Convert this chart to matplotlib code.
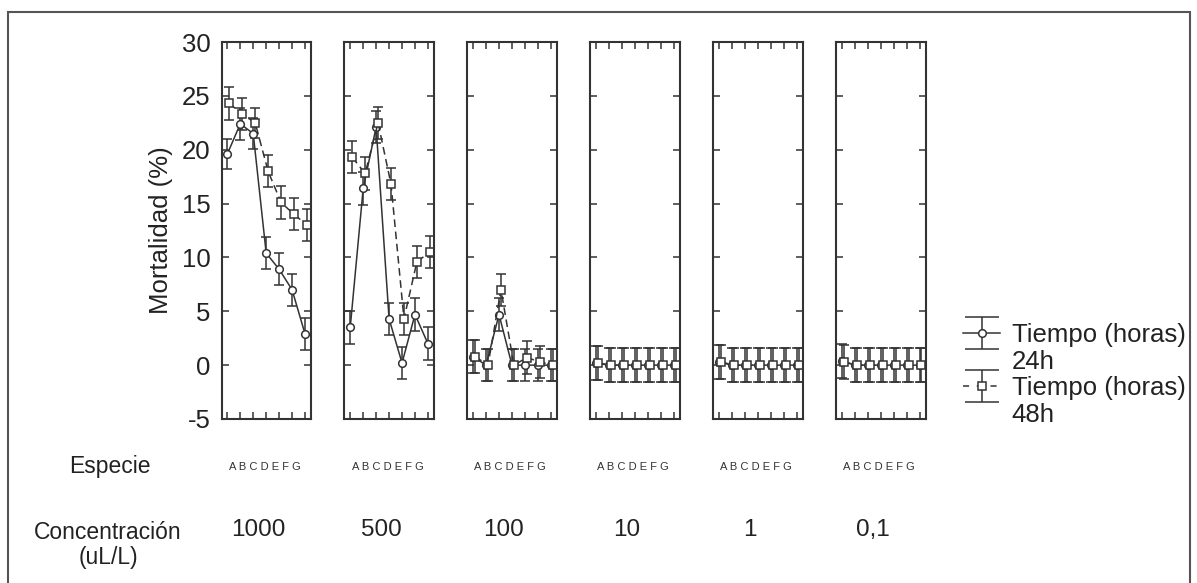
import matplotlib
matplotlib.use("Agg")
import matplotlib.pyplot as plt
from matplotlib.patches import Rectangle
from matplotlib.lines import Line2D
from matplotlib.legend_handler import HandlerErrorbar
from matplotlib.container import ErrorbarContainer
import numpy as np

plt.rcParams['font.family'] = ['Liberation Sans', 'DejaVu Sans']
plt.rcParams['axes.unicode_minus'] = False

# data
species = ["A", "B", "C", "D", "E", "F", "G"]
conc_labels = ["1000", "500", "100", "10", "1", "0,1"]

mort_24h = [
    [19.6, 22.4, 21.5, 10.4, 8.9, 7.0, 2.9],
    [3.5, 16.4, 22.1, 4.3, 0.2, 4.7, 2.0],
    [0.8, 0.0, 4.7, 0.0, 0.0, 0.0, 0.0],
    [0.2, 0.0, 0.0, 0.0, 0.0, 0.0, 0.0],
    [0.3, 0.0, 0.0, 0.0, 0.0, 0.0, 0.0],
    [0.4, 0.0, 0.0, 0.0, 0.0, 0.0, 0.0],
]
err_24h = [
    [1.4, 1.5, 1.4, 1.5, 1.5, 1.5, 1.5],
    [1.5, 1.5, 1.5, 1.5, 1.5, 1.5, 1.5],
    [1.5, 1.5, 1.5, 1.5, 1.5, 1.5, 1.5],
    [1.6, 1.6, 1.6, 1.6, 1.6, 1.6, 1.6],
    [1.6, 1.6, 1.6, 1.6, 1.6, 1.6, 1.6],
    [1.6, 1.6, 1.6, 1.6, 1.6, 1.6, 1.6],
]
mort_48h = [
    [24.3, 23.3, 22.5, 18.0, 15.1, 14.0, 13.0],
    [19.3, 17.8, 22.5, 16.8, 4.3, 9.6, 10.5],
    [0.8, 0.0, 7.0, 0.0, 0.7, 0.3, 0.0],
    [0.2, 0.0, 0.0, 0.0, 0.0, 0.0, 0.0],
    [0.3, 0.0, 0.0, 0.0, 0.0, 0.0, 0.0],
    [0.3, 0.0, 0.0, 0.0, 0.0, 0.0, 0.0],
]
err_48h = [
    [1.5, 1.5, 1.4, 1.5, 1.5, 1.5, 1.5],
    [1.5, 1.5, 1.5, 1.5, 1.5, 1.5, 1.5],
    [1.5, 1.5, 1.5, 1.5, 1.5, 1.5, 1.5],
    [1.6, 1.6, 1.6, 1.6, 1.6, 1.6, 1.6],
    [1.6, 1.6, 1.6, 1.6, 1.6, 1.6, 1.6],
    [1.6, 1.6, 1.6, 1.6, 1.6, 1.6, 1.6],
]

W, H = 1197, 583
fig = plt.figure(figsize=(W / 100, H / 100), dpi=100)

ink = "#333333"
txt = "#222222"
x = np.arange(len(species))

# outer frame of the figure
fig.patches.append(Rectangle((8 / W, -0.05), (1190 - 8) / W, 1.05 - 12 / H,
                             transform=fig.transFigure, fill=False,
                             edgecolor="#555555", linewidth=1.5))

left0, step, width = 221.5, 122.9, 90.0
bottom, top = 419.0, 42.0
for i in range(len(conc_labels)):
    ax = fig.add_axes([(left0 + step * i) / W, 1 - bottom / H,
                       width / W, (bottom - top) / H])
    ax.errorbar(x, mort_24h[i], yerr=err_24h[i], color=ink, lw=1.1,
                ls="-", marker="o", ms=5.5, mfc="white", mec=ink, mew=1.1,
                capsize=3.8, capthick=1.1, elinewidth=1.1)
    ax.errorbar(x + 0.15, mort_48h[i], yerr=err_48h[i], color=ink, lw=1.1,
                ls=(0, (5, 3)), marker="s", ms=5.5, mfc="white", mec=ink,
                mew=1.1, capsize=3.8, capthick=1.1, elinewidth=1.1)
    ax.set_xlim(-0.45, 6.5)
    ax.set_ylim(-5, 30)
    ax.set_yticks(range(-5, 31, 5))
    ax.set_xticks(x)
    ax.set_xticklabels([])
    ax.tick_params(direction="in", top=True, right=True, length=5,
                   width=1.1, color=ink, labelsize=18.5, labelcolor=txt, pad=8)
    for s in ax.spines.values():
        s.set_linewidth(1.5)
        s.set_color(ink)
    if i > 0:
        ax.set_yticklabels([])
    else:
        ax.set_ylabel("Mortalidad (%)", fontsize=18.5, color=txt, labelpad=6)

    cx = (left0 + step * i + width / 2) / W
    fig.text(cx - 2 / W, 1 - 467 / H, " ".join(species), fontsize=8,
             ha="center", va="center", color=ink)
    fig.text((258 + step * i) / W, 1 - 530 / H, conc_labels[i], fontsize=17.5,
             ha="center", va="center", color=txt)

fig.text(110 / W, 1 - 467 / H, "Especie", fontsize=16.5, ha="center",
         va="center", color=txt)
fig.text(108 / W, 1 - 545 / H, "Concentración\n(uL/L)", fontsize=16.5,
         ha="center", va="center", color=txt, linespacing=1.1)

# legend handles with wide caps, like the reference
hid = fig.add_axes([0, 0, 0.001, 0.001])
hid.axis("off")
h24 = hid.errorbar([np.nan], [np.nan], yerr=[1], color=ink, lw=1.1, ls="-",
                   marker="o", ms=5.5, mfc="white", mec=ink, mew=1.1,
                   capsize=12.5, capthick=1.1, elinewidth=1.1)
h48 = hid.errorbar([np.nan], [np.nan], yerr=[1], color=ink, lw=1.1,
                   ls=(0, (4, 5)), marker="s", ms=5.5, mfc="white", mec=ink,
                   mew=1.1, capsize=12.5, capthick=1.1, elinewidth=1.1)
blank = Line2D([], [], ls="none")

fig.legend([h24, blank, h48, blank],
           ["Tiempo (horas)", "24h", "Tiempo (horas)", "48h"],
           handler_map={ErrorbarContainer: HandlerErrorbar(xerr_size=0.62)},
           loc="center left", bbox_to_anchor=(963 / W, 1 - 375 / H),
           frameon=False, fontsize=18.5, handlelength=1.45, handletextpad=0.45,
           labelspacing=0.1, labelcolor=txt, borderaxespad=0, borderpad=0)

fig.savefig("out.png", dpi=100)
